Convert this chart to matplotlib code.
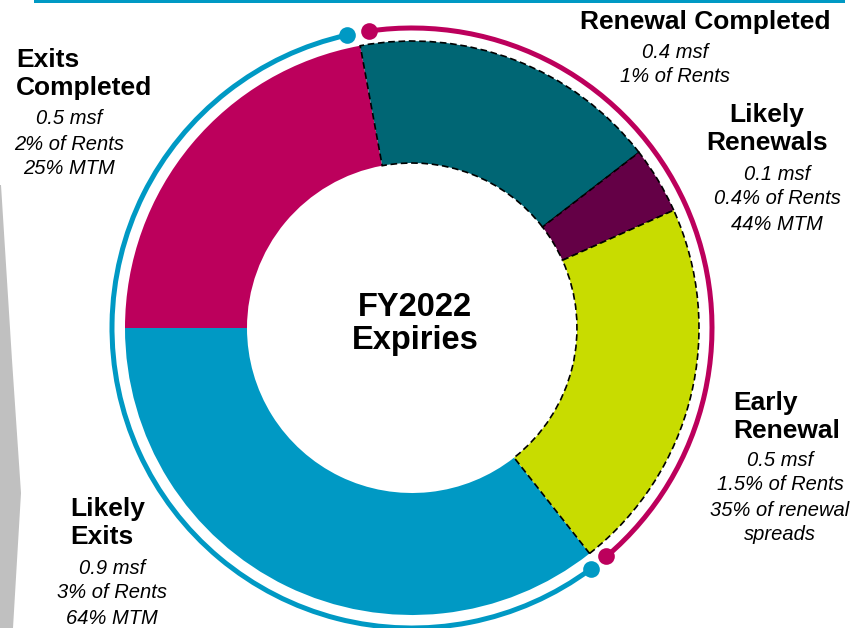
import matplotlib
matplotlib.use("Agg")
import matplotlib.pyplot as plt
import numpy as np
from matplotlib.patches import Arc, Polygon, Rectangle

plt.rcParams['font.family'] = ['Liberation Sans', 'DejaVu Sans']

# ---- data ----
categories = ["Exits Completed", "Renewal Completed", "Likely Renewals", "Early Renewal", "Likely Exits"]
shares = [22.1, 17.4, 3.75, 21.1, 35.6]          # share of the ring (%)
msf = ["0.5 msf", "0.4 msf", "0.1 msf", "0.5 msf", "0.9 msf"]
details = [
    ["2% of Rents", "25% MTM"],
    ["1% of Rents"],
    ["0.4% of Rents", "44% MTM"],
    ["1.5% of Rents", "35% of renewal", "spreads"],
    ["3% of Rents", "64% MTM"],
]
titles = ["Exits\nCompleted", "Renewal Completed", "Likely\nRenewals", "Early\nRenewal", "Likely\nExits"]
center_title = "FY2022\nExpiries"

# ---- styles ----
colors = ["#BC005C", "#006674", "#640046", "#C8DC00", "#0099C4"]
dashed = [False, True, True, True, False]
BLUE = "#0099C4"
MAGENTA = "#BC005C"

W, H = 857, 628
fig = plt.figure(figsize=(W / 100, H / 100), dpi=100)
ax = fig.add_axes([0, 0, 1, 1])
ax.set_xlim(0, W)
ax.set_ylim(0, H)
ax.set_aspect('equal')
ax.axis('off')

cx, cy = 412, H - 328
R_out, R_in = 287, 165

wedges, _ = ax.pie(shares, colors=colors, startangle=180, counterclock=False,
                   center=(cx, cy), radius=R_out,
                   wedgeprops=dict(width=R_out - R_in, linewidth=0))
for w, d in zip(wedges, dashed):
    if d:
        w.set_edgecolor('black')
        w.set_linestyle((0, (4, 2.2)))
        w.set_linewidth(1.2)
        w.set_zorder(3)
ax.set_xlim(0, W)
ax.set_ylim(0, H)

# surrounding arcs (angles in degrees)
R_arc = 300
blue_start, blue_end = 102.5, 306.6
mag_start, mag_end = -49.6, 98.3
ax.add_patch(Arc((cx, cy), 2 * R_arc, 2 * R_arc, theta1=blue_start, theta2=blue_end,
                 color=BLUE, lw=3.6, zorder=4))
ax.add_patch(Arc((cx, cy), 2 * R_arc, 2 * R_arc, theta1=mag_start, theta2=mag_end,
                 color=MAGENTA, lw=3.6, zorder=4))
for ang, col in [(blue_start, BLUE), (blue_end, BLUE), (mag_start, MAGENTA), (mag_end, MAGENTA)]:
    a = np.deg2rad(ang)
    ax.plot(cx + R_arc * np.cos(a), cy + R_arc * np.sin(a), 'o', ms=12, color=col,
            mec='none', zorder=5)

# decorations: top rule and left grey chevron
ax.add_patch(Rectangle((34, H - 3), 811, 3, color=BLUE, lw=0, zorder=1))
ax.add_patch(Polygon([(0, H - 185), (1, H - 185), (12, H - 360), (21, H - 493), (13, 0), (0, 0)],
                     closed=True, color="#C0C0C0", lw=0, zorder=1))

# center title
ax.text(cx + 3, H - 324, center_title, ha='center', va='center', fontsize=23.5,
        fontweight='bold', linespacing=1.12, zorder=6)

# labels: (title x, title y, title ha, detail center x, first detail y)
BOLD = 19
ITAL = 14.5
label_pos = [
    (16, 74, 'left', 69, 119),
    (705, 22, 'center', 675, 52),
    (767, 129, 'center', 777, 174),
    (733, 417, 'left', 780, 460),
    (70, 523, 'left', 112, 568),
]
for title, m, det, (tx, ty, tha, dx, dy) in zip(titles, msf, details, label_pos):
    ax.text(tx, H - ty, title, ha=tha, va='center', fontsize=BOLD, fontweight='bold',
            linespacing=1.22, zorder=6)
    lines = [m] + det
    for i, line in enumerate(lines):
        ax.text(dx, H - (dy + 25 * i), line, ha='center', va='center', fontsize=ITAL,
                style='italic', zorder=6)

fig.savefig("out.png", dpi=100)
